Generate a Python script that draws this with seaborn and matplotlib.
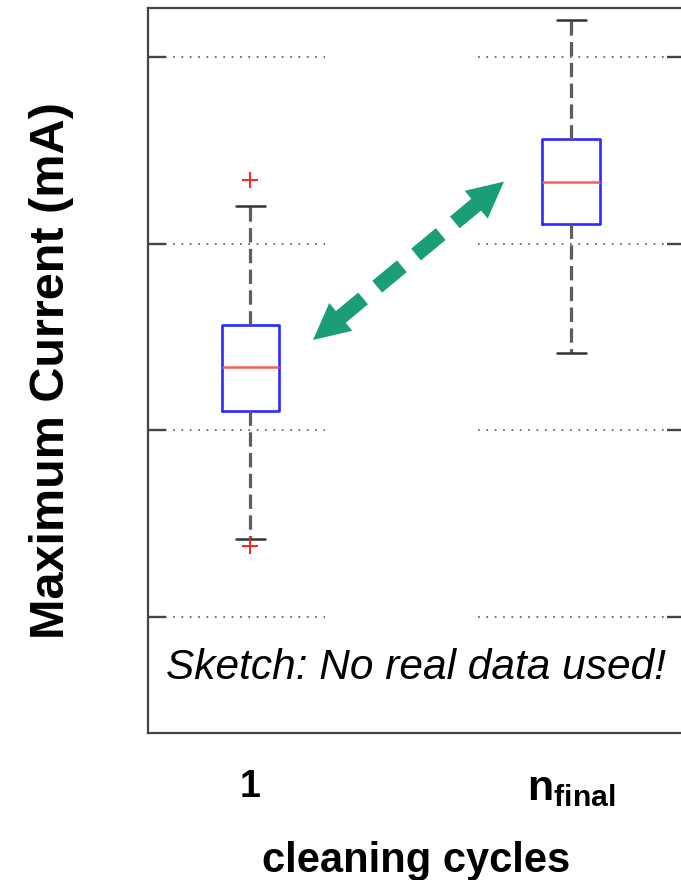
import numpy as np
import pandas as pd
import matplotlib
matplotlib.use("Agg")
import matplotlib.pyplot as plt
import seaborn as sns

# ---- data ----
categories = ["1", "n_final"]
tick_labels = ["1", r"$\mathbf{n}_{\mathbf{final}}$"]
cycle1_values = [1.378, 1.420, 2.106, 2.220, 2.339, 2.450, 2.564, 3.204, 3.341]
cyclen_values = [2.413, 3.104, 3.104, 3.220, 3.332, 3.440, 3.559, 3.559, 4.198]
y_ticks = [1, 2, 3, 4]
arrow_start = (0.195, 2.484)
arrow_end = (0.790, 3.332)
note_text = "Sketch: No real data used!"
xlabel_text = "cleaning cycles"
ylabel_text = "Maximum Current (mA)"

df = pd.DataFrame({
    "cycle": [categories[0]] * len(cycle1_values) + [categories[1]] * len(cyclen_values),
    "current": cycle1_values + cyclen_values,
})

sns.set_style("white")
plt.rcParams["font.family"] = ["Liberation Sans", "DejaVu Sans"]
plt.rcParams["mathtext.fontset"] = "custom"
plt.rcParams["mathtext.rm"] = "Liberation Sans"
plt.rcParams["mathtext.bf"] = "Liberation Sans:bold"
plt.rcParams["mathtext.it"] = "Liberation Sans:italic"
plt.rcParams["text.color"] = "black"
plt.rcParams["axes.labelcolor"] = "black"
plt.rcParams["xtick.color"] = "black"

fig = plt.figure(figsize=(6.81, 8.80), dpi=100)
ax = fig.add_axes([148 / 681, (880 - 733) / 880, 537 / 681, 725 / 880])

sns.boxplot(
    data=df, x="cycle", y="current", order=categories, ax=ax,
    fill=False, width=0.18, whis=1.55, color="#2a2aff", linewidth=1.5,
    boxprops=dict(color="#2a2aff", lw=1.9),
    medianprops=dict(color="#ff5a5a", lw=1.8),
    whiskerprops=dict(color="#5e5e5e", lw=2.3, linestyle=(0, (4.5, 2.0))),
    capprops=dict(color="#333333", lw=1.8),
    flierprops=dict(marker="+", markeredgecolor="#ff2020", markerfacecolor="none",
                    markersize=11, markeredgewidth=1.4),
)

ax.set_xlim(-0.319, 1.354)
ax.set_ylim(0.379, 4.262)

# dotted grid segments
for yv in y_ticks:
    ax.axhline(yv, xmin=0.0, xmax=0.33, color="#707070", lw=1.4,
               linestyle=(0, (0.9, 3.4)), zorder=0.5)
    ax.axhline(yv, xmin=0.615, xmax=1.0, color="#707070", lw=1.4,
               linestyle=(0, (0.9, 3.4)), zorder=0.5)

ax.set_yticks(y_ticks)
ax.set_yticklabels([])
ax.tick_params(axis="y", direction="in", length=13, width=1.7, colors="#444444",
               left=True, right=True)
ax.tick_params(axis="x", length=0, pad=26, colors="black")
ax.set_xticks([0, 1])
ax.set_xticklabels(tick_labels, fontsize=27, fontweight="bold")
ax.get_xticklabels()[1].set_fontsize(31)

for sp in ax.spines.values():
    sp.set_color("#444444")
    sp.set_linewidth(1.6)

ax.set_xlabel(xlabel_text, fontsize=30, fontweight="bold", labelpad=23, color="black")
ax.set_ylabel(ylabel_text, fontsize=35, fontweight="bold", labelpad=50, color="black")

ax.text(0.516, 0.727, note_text, fontsize=30.5, style="italic",
        ha="center", va="center", color="black")

# double-headed dashed arrow
green = "#1b9e77"
p0 = ax.transData.transform(arrow_start)
p1 = ax.transData.transform(arrow_end)
d = p1 - p0
u = d / np.hypot(*d)
head = 33.0
s0 = ax.transData.inverted().transform(p0 + u * head)
s1 = ax.transData.inverted().transform(p1 - u * head)
ax.plot([s0[0], s1[0]], [s0[1], s1[1]], color=green, lw=11,
        dashes=(2.1, 1.2), dash_capstyle="butt", solid_capstyle="butt", zorder=5)
for tip, back in [(arrow_end, s1), (arrow_start, s0)]:
    ax.annotate("", xy=tip, xytext=tuple(back),
                arrowprops=dict(arrowstyle="-|>,head_length=2.6,head_width=1.3",
                                mutation_scale=10, color=green, lw=0,
                                shrinkA=0, shrinkB=0), zorder=6)

fig.savefig("out.png", dpi=100)
